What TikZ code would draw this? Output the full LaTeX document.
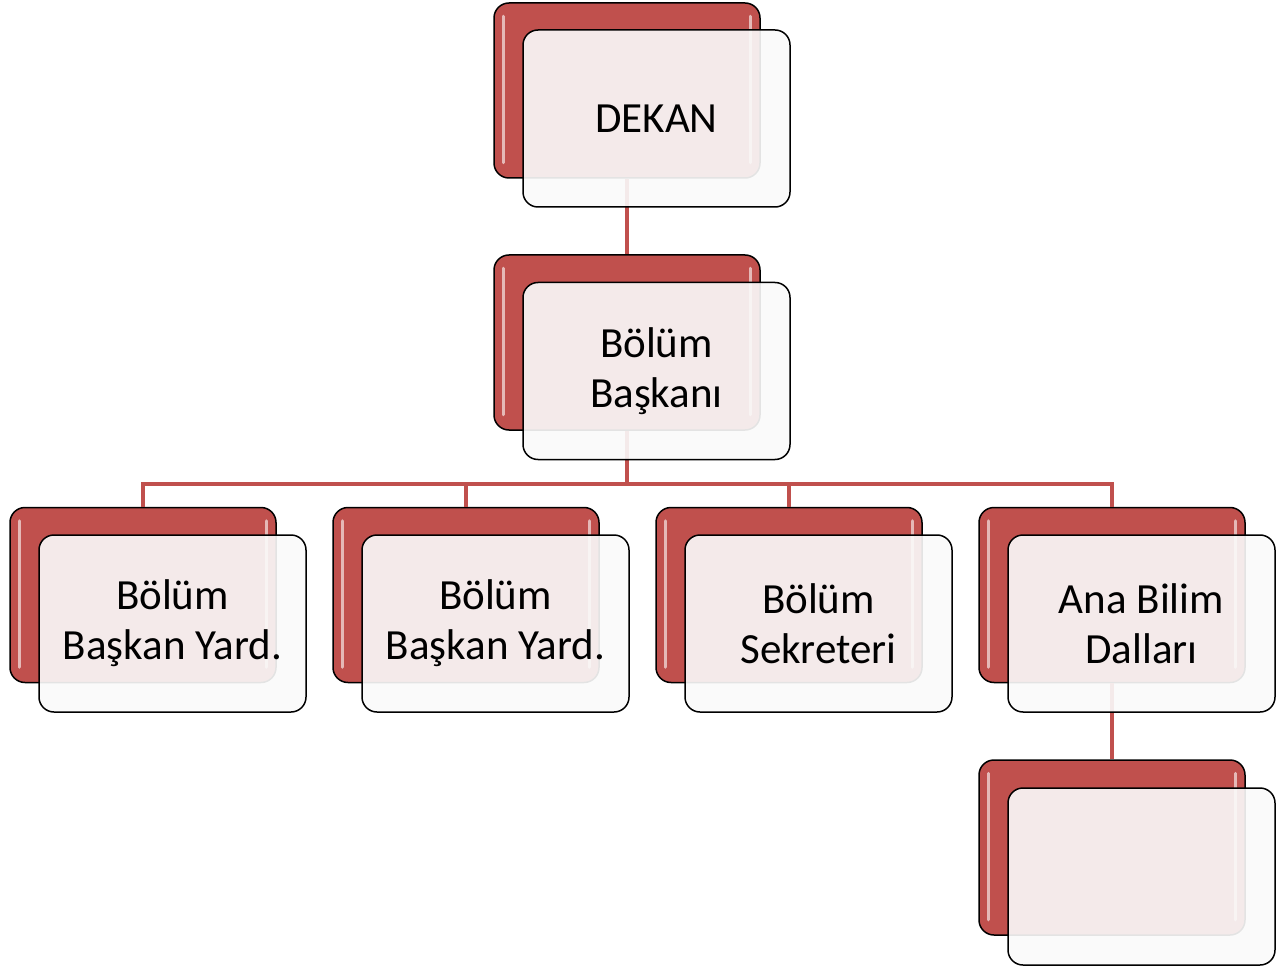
\documentclass[tikz,border=0pt]{standalone}
\usepackage{fontspec}
\setmainfont{Carlito}
\definecolor{boxred}{HTML}{C0504D}
\definecolor{glass}{HTML}{FAFAFA}
\begin{document}
\begin{tikzpicture}[x=1pt, y=-1pt,
    backbox/.style={draw=black, line width=1.5pt, fill=boxred, rounded corners=15pt,
        minimum width=266pt, minimum height=175pt, inner sep=0pt},
    frontbox/.style={draw=black, line width=1.5pt, fill=glass, fill opacity=.91, text opacity=1,
        rounded corners=15pt, minimum width=267pt, minimum height=177pt, inner sep=0pt,
        align=center, font=\fontsize{43}{50}\selectfont},
    link/.style={draw=boxred, line width=4.5pt},
    shine/.style={white, opacity=.6, line width=3pt, line cap=round}]
    \useasboundingbox (0,0) rectangle (1285,968);
    % back boxes
    \node[backbox] (dekanb) at (627,90.5) {};
    \node[backbox] (baskanb) at (627,342.5) {};
    \node[backbox] (yard1b) at (143,595) {}; \node[backbox] (yard2b) at (466,595) {};
    \node[backbox] (sekb) at (789,595) {}; \node[backbox] (abdb) at (1112,595) {};
    \node[backbox] (altb) at (1112,847.5) {};
    \foreach \n in {dekanb,baskanb,yard1b,yard2b,sekb,abdb,altb} {
        \draw[shine] ([xshift=10pt,yshift=-14pt]\n.north west) -- ([xshift=10pt,yshift=16pt]\n.south west);
        \draw[shine] ([xshift=-10pt,yshift=-14pt]\n.north east) -- ([xshift=-10pt,yshift=16pt]\n.south east);
    }
    % connectors
    \coordinate (bus) at (627,484);
    \draw[link] (dekanb.south) -- (baskanb.north);
    \draw[link] (baskanb.south) -- (bus);
    \foreach \n in {yard1b,yard2b,sekb,abdb} \draw[link] (\n.north) |- (bus);
    \draw[link] (abdb.south) -- (altb.north);
    % front boxes
    \node[frontbox] (dekan) at (656.5,118.5) {DEKAN};
    \node[frontbox] (baskan) at (656.5,371) {Bölüm\\Başkanı};
    \node[frontbox] (yard1) at (172.5,623.5) {Bölüm\\Başkan Yard.};
    \node[frontbox] (yard2) at (495.5,623.5) {Bölüm\\Başkan Yard.};
    \node[frontbox] (sek) at (818.5,623.5) {Bölüm\\Sekreteri};
    \node[frontbox] (abd) at (1141.5,623.5) {Ana Bilim\\Dalları};
    \node[frontbox] (alt) at (1141.5,876.5) {};
\end{tikzpicture}
\end{document}
